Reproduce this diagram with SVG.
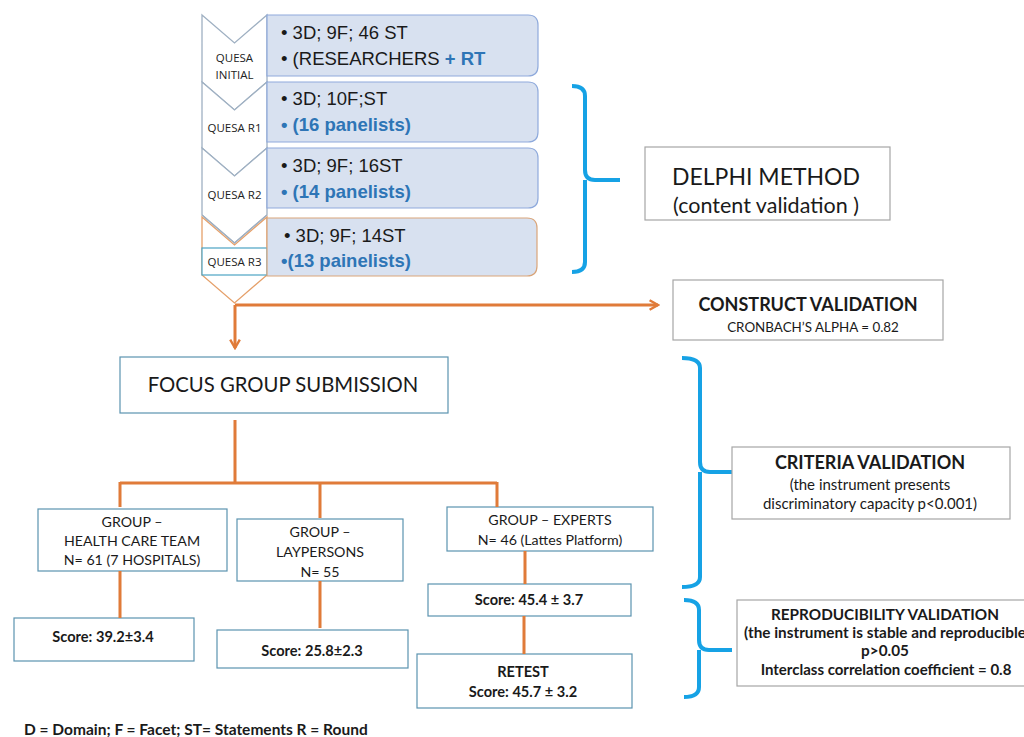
<svg xmlns="http://www.w3.org/2000/svg" width="1024" height="737" viewBox="0 0 1024 737">
<defs>
<style>
.chev{fill:#fff;stroke:#9FB0C2;stroke-width:1.3}
.chevo{fill:#fff;stroke:#E5A06A;stroke-width:1.3}
.rbox{fill:#D8E1F0;stroke:#8FAADC;stroke-width:1.2}
.clab{font-family:"Open Sans","Liberation Sans",sans-serif;font-size:11.5px;fill:#222;text-anchor:middle}
.bt{font-family:"Liberation Sans",Arial,sans-serif;font-size:18.5px;fill:#1a1a1a}
.bb{font-family:"Liberation Sans",Arial,sans-serif;font-size:18.5px;fill:#2E75B6;font-weight:bold}
.node{fill:#fff;stroke:#5B93B0;stroke-width:1.2}
.gbox{fill:#fff;stroke:#A6A6A6;stroke-width:1.2}
.t{font-family:Lato,"Liberation Sans",sans-serif;fill:#1a1a1a;text-anchor:middle}
.g{font-size:14.2px}
.s{font-size:14.6px;font-weight:bold}
.conn{fill:none;stroke:#E07B39;stroke-width:3}
.brace{fill:none;stroke:#16A2E5;stroke-width:4;stroke-linejoin:round}
</style>
<marker id="ah" viewBox="0 0 10 10" refX="8" refY="5" markerWidth="4" markerHeight="4" orient="auto" markerUnits="strokeWidth">
<path d="M1,1 L8,5 L1,9" fill="none" stroke="#E07B39" stroke-width="2"/>
</marker>
</defs>
<rect width="1024" height="737" fill="#fff"/>

<g id="quesa-initial">
<path class="chev" d="M202,15 L234.5,43 L267,15 L267,82 L234.5,110 L202,82 Z"/>
<path class="rbox" d="M267,15 H528 Q538,15 538,25 V66 Q538,76 528,76 H267 Z"/>
<text class="clab" x="234.5" y="62">QUESA</text>
<text class="clab" x="234.5" y="79">INITIAL</text>
<text class="bt" x="281" y="39">• 3D; 9F; 46 ST</text>
<text class="bt" x="281" y="65">• (RESEARCHERS <tspan class="bb">+ RT</tspan></text>
</g>

<g id="quesa-r1">
<path class="chev" d="M202,82 L234.5,110 L267,82 L267,148 L234.5,176 L202,148 Z"/>
<path class="rbox" d="M267,82 H528 Q538,82 538,92 V132 Q538,142 528,142 H267 Z"/>
<text class="clab" x="234.5" y="132">QUESA  R1</text>
<text class="bt" x="281" y="105">• 3D; 10F;ST</text>
<text class="bb" x="281" y="131">• (16 panelists)</text>
</g>

<g id="quesa-r2">
<path class="chev" d="M202,148 L234.5,176 L267,148 L267,215 L234.5,243 L202,215 Z"/>
<path class="rbox" d="M267,148 H528 Q538,148 538,158 V198 Q538,208 528,208 H267 Z"/>
<text class="clab" x="234.5" y="199">QUESA  R2</text>
<text class="bt" x="281" y="172">• 3D; 9F; 16ST</text>
<text class="bb" x="281" y="198">• (14 panelists)</text>
</g>

<g id="quesa-r3">
<path class="chevo" d="M202,217 L234.5,245 L267,217 L267,275 L234.5,303 L202,275 Z"/>
<path d="M202,215 L234.5,243 L267,215" fill="none" stroke="#9FB0C2" stroke-width="1.3"/>
<rect x="202" y="248" width="65" height="27" fill="#fff" stroke="#4BA3C3" stroke-width="1.2"/>
<path d="M267,218 H527 Q537,218 537,228 V266 Q537,276 527,276 H267 Z" fill="#D8E1F0" stroke="#D9A57A" stroke-width="1.2"/>
<text class="clab" x="234.5" y="266">QUESA  R3</text>
<text class="bt" x="284" y="242">• 3D; 9F; 14ST</text>
<text class="bb" x="281" y="267">•(13 painelists)</text>
</g>

<g id="delphi-brace">
<path class="brace" d="M572,86 Q585,86 585,96 V170 Q585,180 595,180 H620 M585,180 V262 Q585,272 572,272"/>
</g>
<g id="delphi">
<rect class="gbox" x="645" y="147" width="245" height="73"/>
<text class="t" x="766" y="185" font-size="23">DELPHI METHOD</text>
<text class="t" x="766" y="213" font-size="21.5">(content validation )</text>
</g>

<g id="construct">
<rect class="gbox" x="673" y="280" width="270" height="60"/>
<text class="t" x="808" y="311" font-size="18" font-weight="bold">CONSTRUCT VALIDATION</text>
<text class="t" x="813" y="332" font-size="13.4">CRONBACH’S  ALPHA = 0.82</text>
</g>

<g id="focus-group">
<rect class="node" x="120" y="357" width="328" height="56"/>
<text class="t" x="283" y="392" font-size="20.3">FOCUS GROUP  SUBMISSION</text>
</g>

<g id="group-health">
<rect class="node" x="38" y="509" width="189" height="62"/>
<text class="t g" x="132" y="527">GROUP –</text>
<text class="t g" x="132" y="546">HEALTH CARE TEAM</text>
<text class="t g" x="132" y="565">N= 61 (7 HOSPITALS)</text>
</g>
<g id="group-lay">
<rect class="node" x="237" y="519" width="166" height="62"/>
<text class="t g" x="320" y="537">GROUP –</text>
<text class="t g" x="320" y="557">LAYPERSONS</text>
<text class="t g" x="320" y="577">N= 55</text>
</g>
<g id="group-experts">
<rect class="node" x="447" y="507" width="206" height="44"/>
<text class="t g" x="550" y="525">GROUP – EXPERTS</text>
<text class="t g" x="550" y="545">N= 46 (Lattes Platform)</text>
</g>

<g id="score-health">
<rect class="node" x="14" y="618" width="180" height="43"/>
<text class="t s" x="103" y="642">Score: 39.2±3.4</text>
</g>
<g id="score-lay">
<rect class="node" x="217" y="630" width="191" height="38"/>
<text class="t s" x="312" y="656">Score: 25.8±2.3</text>
</g>
<g id="score-experts">
<rect class="node" x="428" y="584" width="203" height="32"/>
<text class="t s" x="529" y="605">Score: 45.4 ± 3.7</text>
</g>
<g id="retest">
<rect class="node" x="417" y="654" width="215" height="54"/>
<text class="t s" x="523" y="677">RETEST</text>
<text class="t s" x="523" y="697">Score: 45.7 ± 3.2</text>
</g>

<g id="criteria-brace">
<path class="brace" d="M682,358 Q700,358 700,368 V462 Q700,472 710,472 H732 M700,472 V577 Q700,587 682,587"/>
</g>
<g id="criteria">
<rect class="gbox" x="732" y="447" width="278" height="72"/>
<text class="t" x="870" y="469" font-size="18" font-weight="bold">CRITERIA VALIDATION</text>
<text class="t" x="870" y="490" font-size="15">(the instrument presents</text>
<text class="t" x="870" y="509" font-size="15">discriminatory capacity  p&lt;0.001)</text>
</g>

<g id="repro-brace">
<path class="brace" d="M684,600 Q699,600 699,610 V640 Q699,650 709,650 H732 M699,650 V687 Q699,697 684,697"/>
</g>
<g id="reproducibility">
<rect class="gbox" x="737" y="600" width="290" height="86"/>
<text class="t" x="885" y="620" font-size="15.3" font-weight="bold">REPRODUCIBILITY  VALIDATION</text>
<text class="t" x="885" y="638" font-size="15.3" font-weight="bold">(the instrument is stable and reproducible</text>
<text class="t" x="885" y="656" font-size="15.3" font-weight="bold">p&gt;0.05</text>
<text class="t" x="886" y="675" font-size="15" font-weight="bold">Interclass correlation coefficient   = 0.8</text>
</g>

<g id="connectors">
<path class="conn" d="M235,305 H658" marker-end="url(#ah)"/>
<path class="conn" d="M235,305 V348" marker-end="url(#ah)"/>
<path class="conn" d="M235,420 V483 M120,483 H497 M120,482 V507 M320,482 V518 M497,482 V507"/>
<path class="conn" d="M120,571 V618 M320,581 V628 M525,551 V584 M524,616 V654"/>
</g>

<text x="24" y="735" font-family="Lato,'Liberation Sans',sans-serif" font-size="15.5" font-weight="bold" fill="#1a1a1a">D = Domain; F = Facet; ST= Statements R = Round</text>
</svg>
